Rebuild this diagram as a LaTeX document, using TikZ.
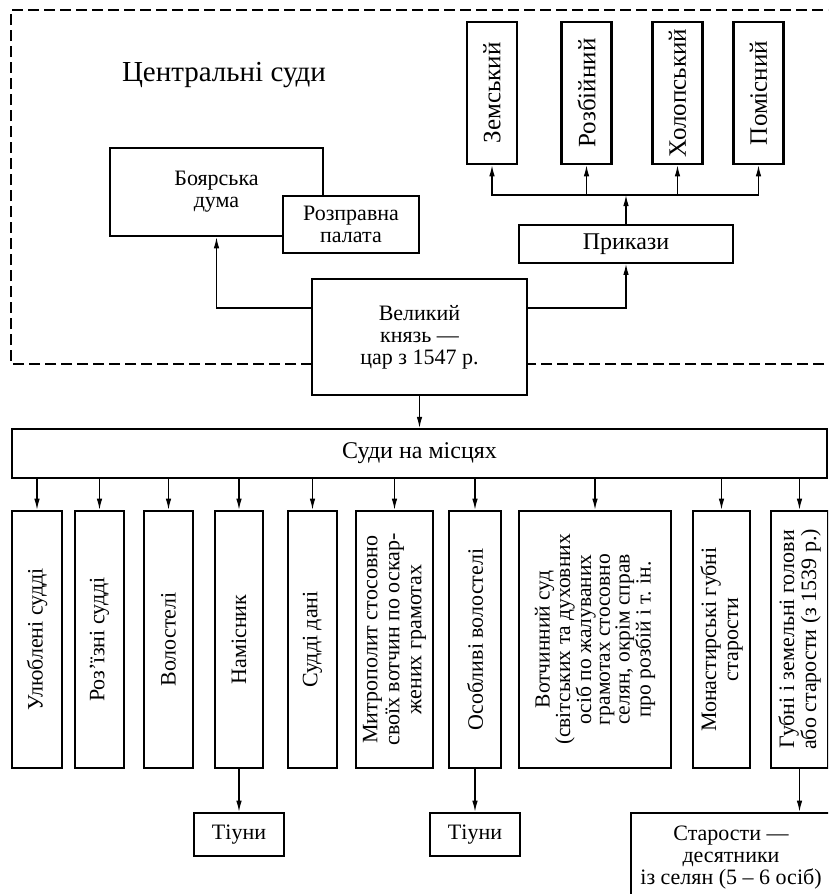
\documentclass[tikz,border=0pt]{standalone}
\usepackage{fontspec}
\setmainfont{Liberation Serif}
\usepackage{tikz}
\usetikzlibrary{calc}
\usetikzlibrary{positioning}
\usetikzlibrary{arrows.meta}
\tikzset{
	courtbox/.style={draw=black, line width=2.6pt, fill=white, align=center, inner sep=2pt,
		font=\fontsize{22}{22}\selectfont},
	subbox/.style={courtbox, line width=1.8pt},
	vcourt/.style={courtbox, rotate=90, minimum width=257pt, minimum height=#1},
	prikaz/.style={vcourt=50pt, minimum width=142pt, font=\fontsize{25}{25}\selectfont},
	link/.style={line width=1.2pt, -{Latex[length=11pt,width=5.5pt]}},
	dashframe/.style={line width=1.6pt, dash pattern=on 11pt off 5pt},
}

\begin{document}
\begin{tikzpicture}[x=1pt, y=-1pt]
		
		\clip (0,0) rectangle (828,894);
		
		% central courts
		\draw[dashframe] (840,364) -- (11,364) -- (11,10) -- (840,10);
		\node[font=\fontsize{29}{32}\selectfont] (central) at (224,75) {Центральні суди};
		\node[courtbox, minimum width=213pt, minimum height=88pt] (duma) at (216.5,192) {Боярська\\дума};
		\node[subbox, minimum width=136pt, minimum height=57pt] (rozpr) at (351,224.5) {Розправна\\палата};
		\node[courtbox, minimum width=215pt, minimum height=116pt] (kniaz) at (419.5,337) {Великий\\князь —\\цар з 1547 р.};
		\node[subbox, minimum width=214pt, minimum height=38pt, font=\fontsize{24}{24}\selectfont] (prykazy) at (626,244) {Прикази};
		\node[prikaz] (zem) at (492,93) {Земський};
		\node[prikaz] (rozb) at (586.5,93) {Розбійний};
		\node[prikaz] (khol) at (677.5,93) {Холопський};
		\node[prikaz] (pomis) at (758.5,93) {Помісний};
		\coordinate (br) at (626,195);
		
		\draw[link] (kniaz.west |- 0,308) -| (duma.south);
		\draw[link] (kniaz.east |- 0,308) -| (prykazy.south);
		\draw[link] (prykazy.north) -- (br);
		\foreach \n in {zem,rozb,khol,pomis}
			\draw[link] (br) -| (\n.west);
		
		% local courts
		\node[courtbox, line width=2.2pt, minimum width=815pt, minimum height=49pt, font=\fontsize{24}{24}\selectfont] (sudy) at (419.5,453.5) {Суди на місцях};
		\node[vcourt=50pt] (c1) at (37,639.5) {Улюблені судді};
		\node[vcourt=49pt] (c2) at (99.5,639.5) {Роз’їзні судді};
		\node[vcourt=49pt] (c3) at (168.5,639.5) {Волостелі};
		\node[vcourt=48pt] (c4) at (239,639.5) {Намісник};
		\node[vcourt=49pt] (c5) at (312.5,639.5) {Судді дані};
		\node[vcourt=77pt] (c6) at (394.5,639.5) {Митрополит стосовно\\своїх вотчин по оскар-\\жених грамотах};
		\node[vcourt=52pt] (c7) at (475,639.5) {Особливі волостелі};
		\node[vcourt=152pt, font=\fontsize{21.5}{18.6}\selectfont] (c8) at (595,639.5) {Вотчинний суд\\(світських та духовних\\осіб по жалуваних\\грамотах стосовно\\селян, окрім справ\\про розбій і т. ін.};
		\node[vcourt=57pt] (c9) at (721.5,639.5) {Монастирські губні\\старости};
		\node[vcourt=57pt] (c10) at (799.5,639.5) {Губні і земельні голови\\або старости (з 1539 р.)};
		\node[courtbox, minimum width=90pt, minimum height=43pt] (tiun1) at (239,834.5) {Тіуни};
		\node[courtbox, minimum width=90pt, minimum height=43pt] (tiun2) at (475,834.5) {Тіуни};
		\node[courtbox, minimum width=200pt, minimum height=90pt] (star) at (731,858) {Старости —\\десятники\\із селян (5 – 6 осіб)};
		
		\draw[link] (kniaz.south) -- (sudy.north);
		\foreach \c in {c1,c2,c3,c4,c5,c6,c7,c8,c9,c10}
			\draw[link] (sudy.south -| \c.east) -- (\c.east);
		\draw[link] (c4.west) -- (tiun1.north);
		\draw[link] (c7.west) -- (tiun2.north);
		\draw[link] (c10.west) -- (c10.west |- star.north);
		
	\end{tikzpicture}
\end{document}
